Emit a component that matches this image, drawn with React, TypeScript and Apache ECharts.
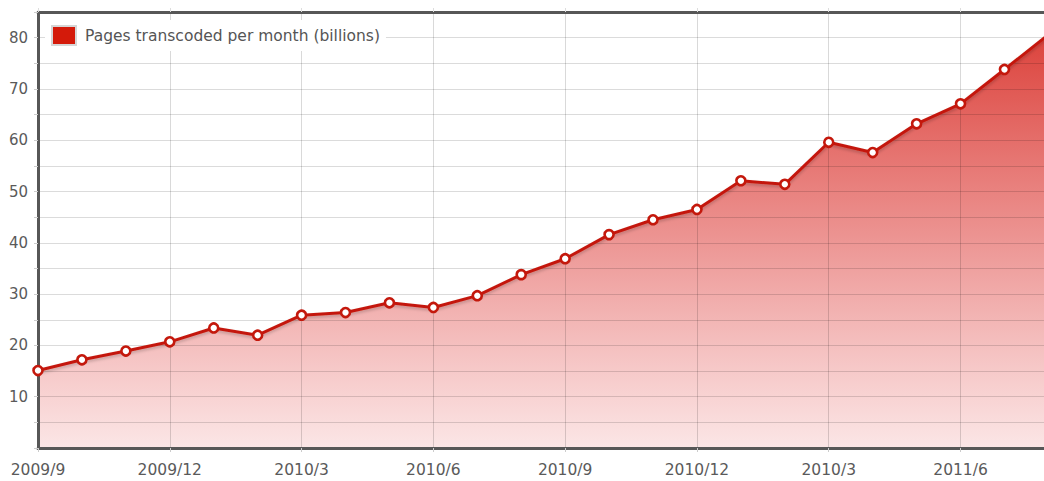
import React, { useEffect, useRef } from "react";
import * as echarts from "echarts";

// Monthly pages transcoded (billions), starting 2009/9
const monthIndex = [
  0, 1, 2, 3, 4, 5, 6, 7, 8, 9, 10, 11, 12, 13, 14, 15, 16, 17, 18, 19, 20, 21, 22, 23,
];
const values = [
  15.1, 17.2, 18.9, 20.7, 23.4, 22.0, 25.9, 26.4, 28.3, 27.4, 29.7, 33.8,
  36.9, 41.6, 44.5, 46.5, 52.1, 51.4, 59.6, 57.6, 63.2, 67.1, 73.8, 80.6,
];
// tick labels shown every 3 months (as printed on the original)
const tickLabels = [
  "2009/9", "2009/12", "2010/3", "2010/6", "2010/9", "2010/12", "2010/3", "2011/6",
];
const seriesName = "Pages transcoded per month (billions)";

const FONT = "DejaVu Sans";
const RED = "#c4180c";

export default function App() {
  const ref = useRef<HTMLDivElement>(null);

  useEffect(() => {
    if (!ref.current) return;
    const chart = echarts.init(ref.current, undefined, { renderer: "svg" });
    const data = monthIndex.map((m, i) => [m, values[i]]);

    chart.setOption({
      animation: false,
      backgroundColor: "#ffffff",
      grid: { left: 38, right: 0, top: 12, bottom: 33, containLabel: false },
      legend: {
        show: true,
        data: [seriesName],
        left: 45,
        top: 20,
        padding: [5, 6, 5, 6],
        backgroundColor: "#ffffff",
        icon: "rect",
        itemWidth: 24,
        itemHeight: 19,
        itemStyle: { color: "#d41a0a", borderColor: "#d6d6d6", borderWidth: 2 },
        textStyle: {
          fontFamily: FONT,
          fontSize: 15.5,
          color: "#555555",
          padding: [0, 0, 0, 4],
        },
        z: 10,
      },
      xAxis: [
        {
          type: "value",
          min: 0,
          max: 22.9,
          interval: 3,
          z: 2,
          axisLine: { show: true, onZero: false, lineStyle: { color: "#575757", width: 3 } },
          axisTick: { show: true, length: 4, lineStyle: { color: "#cccccc" } },
          axisLabel: {
            fontFamily: FONT,
            fontSize: 15.5,
            color: "#5a5a5a",
            margin: 14,
            showMaxLabel: false,
            formatter: (v: number) => {
              const r = Math.round(v);
              if (Math.abs(v - r) > 1e-6 || r % 3 !== 0) return "";
              return tickLabels[r / 3] ?? "";
            },
          },
          splitLine: { show: true, lineStyle: { color: "rgba(0,0,0,0.15)", width: 1 } },
        },
        {
          type: "value",
          position: "top",
          min: 0,
          max: 22.9,
          interval: 3,
          z: 2,
          axisLine: { show: true, onZero: false, lineStyle: { color: "#575757", width: 3 } },
          axisTick: { show: true, length: 4, lineStyle: { color: "#dddddd" } },
          axisLabel: { show: false },
          splitLine: { show: false },
        },
      ],
      yAxis: {
        type: "value",
        min: 0,
        max: 85,
        interval: 5,
        z: 2,
        axisLine: { show: true, onZero: false, lineStyle: { color: "#575757", width: 3 } },
        axisTick: { show: true, length: 4, lineStyle: { color: "#cccccc" } },
        axisLabel: {
          fontFamily: FONT,
          fontSize: 15,
          color: "#5a5a5a",
          margin: 10,
          formatter: (v: number) => (v > 0 && v % 10 === 0 ? String(v) : ""),
        },
        splitLine: { show: true, lineStyle: { color: "rgba(0,0,0,0.14)", width: 1 } },
      },
      series: [
        {
          name: seriesName,
          type: "line",
          data,
          z: 1,
          clip: true,
          showSymbol: false,
          symbol: "none",
          lineStyle: { width: 0, opacity: 0 },
          itemStyle: { color: RED },
          areaStyle: {
            origin: "start",
            opacity: 1,
            color: new echarts.graphic.LinearGradient(0, 0, 0, 1, [
              { offset: 0, color: "rgba(214,36,28,0.86)" },
              { offset: 0.5, color: "rgba(218,44,40,0.5)" },
              { offset: 1, color: "rgba(225,60,60,0.13)" },
            ]),
          },
          silent: true,
        },
        {
          name: seriesName,
          type: "line",
          data,
          z: 3,
          clip: true,
          symbol: "circle",
          symbolSize: 9,
          showAllSymbol: true,
          lineStyle: {
            color: RED,
            width: 3,
            shadowColor: "rgba(0,0,0,0.2)",
            shadowBlur: 3,
            shadowOffsetY: 2,
          },
          itemStyle: { color: "#ffffff", borderColor: RED, borderWidth: 2.6 },
          silent: true,
        },
      ],
    });

    return () => chart.dispose();
  }, []);

  return (
    <div
      ref={ref}
      style={{ position: "fixed", left: 0, top: 0, width: 1044, height: 481 }}
    />
  );
}
